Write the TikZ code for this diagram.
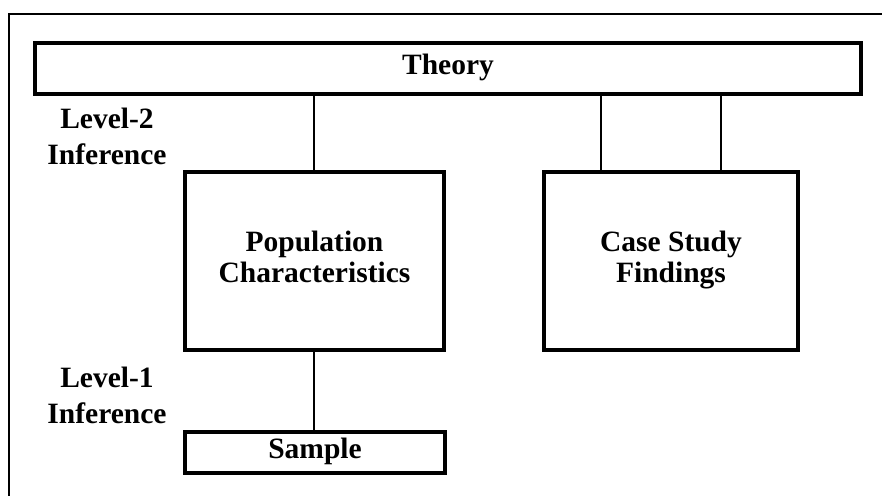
\documentclass[tikz,border=0pt]{standalone}
\usepackage{fontspec}
\setmainfont{Liberation Serif}
\begin{document}
\begin{tikzpicture}[x=1pt,y=-1pt,
  box/.style={draw,line width=3.5pt,inner sep=0pt,font=\fontsize{29.5}{31}\selectfont\bfseries,align=center},
  lbl/.style={inner sep=0pt,font=\fontsize{29.5}{36}\selectfont\bfseries,align=center},
  link/.style={line width=2pt}]
\useasboundingbox (0,0) rectangle (882,496);
\draw[line width=2pt] (882,14) -- (8.5,14) -- (8.5,496);
\node[box,minimum width=826pt,minimum height=51pt] (theory) at (448,68.5) {Theory\strut};
\node[box,minimum width=259pt,minimum height=178pt] (pop) at (314.5,261) {Population\\Characteristics\strut};
\node[box,minimum width=254pt,minimum height=178pt] (case) at (671,261) {Case Study\\Findings\strut};
\node[box,minimum width=260pt,minimum height=41pt] (sample) at (315,452.5) {Sample\strut};
\node[lbl] (l2) at (107,136) {Level-2\\Inference};
\node[lbl] (l1) at (107,395) {Level-1\\Inference};
\draw[link] (pop.north -| 314,0) -- (theory.south -| 314,0);
\draw[link] (case.north -| 601,0) -- (theory.south -| 601,0);
\draw[link] (case.north -| 721,0) -- (theory.south -| 721,0);
\draw[link] (sample.north -| 314,0) -- (pop.south -| 314,0);
\end{tikzpicture}
\end{document}
